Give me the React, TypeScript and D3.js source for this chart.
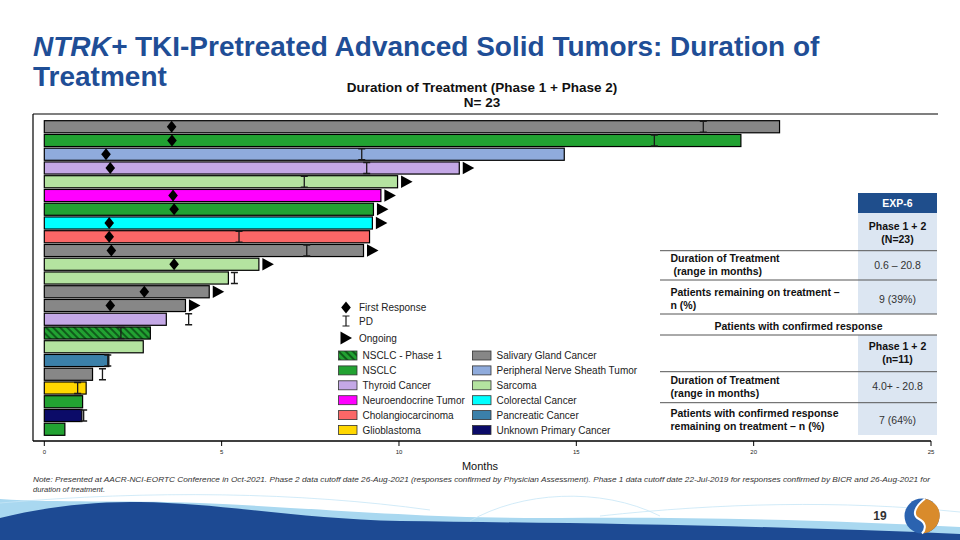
import React, { useRef, useEffect } from 'react';
import * as d3 from 'd3';

// one entry per patient, top to bottom
const tumorTypes = [
  'Salivary Gland Cancer', 'NSCLC', 'Peripheral Nerve Sheath Tumor', 'Thyroid Cancer', 'Sarcoma',
  'Neuroendocrine Tumor', 'NSCLC', 'Colorectal Cancer', 'Cholangiocarcinoma', 'Salivary Gland Cancer',
  'Sarcoma', 'Sarcoma', 'Salivary Gland Cancer', 'Salivary Gland Cancer', 'Thyroid Cancer',
  'NSCLC - Phase 1', 'Sarcoma', 'Pancreatic Cancer', 'Salivary Gland Cancer', 'Glioblastoma',
  'NSCLC', 'Unknown Primary Cancer', 'NSCLC',
];
const durations = [
  20.73, 19.64, 14.66, 11.7, 9.96, 9.49, 9.28, 9.25, 9.17, 9.0, 6.05, 5.19,
  4.65, 3.98, 3.44, 2.99, 2.79, 1.82, 1.36, 1.18, 1.08, 1.06, 0.58,
];
const firstResponse: (number | null)[] = [
  3.59, 3.6, 1.74, 1.86, null, 3.63, 3.66, 1.83, 1.83, 1.89, 3.66, null,
  2.82, 1.86, null, null, null, null, null, null, null, null, null,
];
const progression: (number | null)[] = [
  18.58, 17.2, 8.95, 9.09, 7.33, null, null, null, 5.49, 7.4, null, 5.36,
  null, null, 4.07, 2.16, null, 1.79, 1.64, 0.94, null, 1.11, null,
];
const ongoing = [
  false, false, false, true, true, true, true, true, false, true, true, false,
  true, true, false, false, false, false, false, false, false, false, false,
];

const markerLabels = ['First Response', 'PD', 'Ongoing'];
const legendLeft = ['NSCLC - Phase 1', 'NSCLC', 'Thyroid Cancer', 'Neuroendocrine Tumor', 'Cholangiocarcinoma', 'Glioblastoma'];
const legendRight = ['Salivary Gland Cancer', 'Peripheral Nerve Sheath Tumor', 'Sarcoma', 'Colorectal Cancer', 'Pancreatic Cancer', 'Unknown Primary Cancer'];
const typeColors = ['#22a232', '#22a232', '#c4a8e6', '#ff00ff', '#fb6767', '#ffd700', '#878787', '#8fabdc', '#b4e3a0', '#00ffff', '#3b80a9', '#0b0b68'];
const xTicks = [0, 5, 10, 15, 20, 25];

const tableRows = [
  { label: ['Duration of Treatment', ' (range in months)'], value: '0.6 – 20.8' },
  { label: ['Patients remaining on treatment –', 'n (%)'], value: '9 (39%)' },
  { label: ['Duration of Treatment', '(range in months)'], value: '4.0+ - 20.8' },
  { label: ['Patients with confirmed response', 'remaining on treatment – n (%)'], value: '7 (64%)' },
];
const note1 = 'Note: Presented at AACR-NCI-EORTC Conference in Oct-2021. Phase 2 data cutoff date 26-Aug-2021 (responses confirmed by Physician Assessment). Phase 1 data cutoff date 22-Jul-2019 for responses confirmed by BICR and 26-Aug-2021 for';
const note2 = 'duration of treatment.';

const FONT = "'Liberation Sans', Arial, sans-serif";

const App: React.FC = () => {
  const svgRef = useRef<SVGSVGElement>(null);

  useEffect(() => {
    if (!svgRef.current) return;
    const svg = d3.select(svgRef.current);
    svg.selectAll('*').remove();
    svg.attr('font-family', FONT);

    const color = d3.scaleOrdinal<string, string>()
      .domain([...legendLeft, ...legendRight])
      .range(typeColors);

    const x = d3.scaleLinear().domain([0, 25]).range([44.3, 931]);
    const y = d3.scaleBand<number>()
      .domain(d3.range(durations.length))
      .range([120, 436])
      .paddingInner(0.12)
      .paddingOuter(0.05);
    const bh = y.bandwidth();

    const defs = svg.append('defs');
    const hatch = defs.append('pattern')
      .attr('id', 'hatch')
      .attr('patternUnits', 'userSpaceOnUse')
      .attr('width', 5)
      .attr('height', 5)
      .attr('patternTransform', 'rotate(-45)');
    hatch.append('rect').attr('width', 5).attr('height', 5).attr('fill', '#22a232');
    hatch.append('line').attr('x1', 1).attr('x2', 1).attr('y1', 0).attr('y2', 5)
      .attr('stroke', '#0b4a15').attr('stroke-width', 1.6);
    const fillFor = (t: string) => (t === 'NSCLC - Phase 1' ? 'url(#hatch)' : color(t));

    // slide title
    const title = svg.append('text').attr('x', 33).attr('y', 56)
      .attr('font-size', 28).attr('font-weight', 'bold').attr('fill', '#1f4e96');
    title.append('tspan').attr('font-style', 'italic').text('NTRK+');
    title.append('tspan').text(' TKI-Pretreated Advanced Solid Tumors: Duration of');
    svg.append('text').attr('x', 33).attr('y', 86)
      .attr('font-size', 28).attr('font-weight', 'bold').attr('fill', '#1f4e96')
      .text('Treatment');

    // chart title
    svg.append('text').attr('x', 482).attr('y', 92).attr('text-anchor', 'middle')
      .attr('font-size', 13.5).attr('font-weight', 'bold').attr('fill', '#111')
      .text('Duration of Treatment (Phase 1 + Phase 2)');
    svg.append('text').attr('x', 482).attr('y', 107).attr('text-anchor', 'middle')
      .attr('font-size', 13.5).attr('font-weight', 'bold').attr('fill', '#111')
      .text('N= 23');

    // frame + axis
    svg.append('line').attr('x1', 33).attr('x2', 938).attr('y1', 114).attr('y2', 114)
      .attr('stroke', '#000').attr('stroke-width', 1.2);
    svg.append('line').attr('x1', 33).attr('x2', 33).attr('y1', 114).attr('y2', 441)
      .attr('stroke', '#000').attr('stroke-width', 1.2);
    svg.append('line').attr('x1', 33).attr('x2', 931).attr('y1', 441).attr('y2', 441)
      .attr('stroke', '#000').attr('stroke-width', 1.5);
    const ticks = svg.append('g');
    xTicks.forEach((t) => {
      ticks.append('line').attr('x1', x(t)).attr('x2', x(t)).attr('y1', 441).attr('y2', 446)
        .attr('stroke', '#000').attr('stroke-width', 1);
      ticks.append('text').attr('x', x(t)).attr('y', 454).attr('text-anchor', 'middle')
        .attr('font-size', 6).attr('fill', '#222').text(String(t));
    });
    svg.append('text').attr('x', 480).attr('y', 470).attr('text-anchor', 'middle')
      .attr('font-size', 11).attr('fill', '#111').text('Months');

    // bars
    const g = svg.append('g');
    durations.forEach((d, i) => {
      const yy = y(i)!;
      const cy = yy + bh / 2;
      g.append('rect').attr('x', x(0)).attr('y', yy).attr('width', x(d) - x(0)).attr('height', bh)
        .attr('fill', fillFor(tumorTypes[i])).attr('stroke', '#000').attr('stroke-width', 1.2);
      const fr = firstResponse[i];
      if (fr != null) {
        const fx = x(fr);
        g.append('path').attr('d', `M${fx},${cy - 6}L${fx + 4.8},${cy}L${fx},${cy + 6}L${fx - 4.8},${cy}Z`)
          .attr('fill', '#000');
      }
      const pd = progression[i];
      if (pd != null) {
        const px = x(pd);
        g.append('path')
          .attr('d', `M${px - 3.5},${cy - 5.5}H${px + 3.5}M${px},${cy - 5.5}V${cy + 5.5}M${px - 3.5},${cy + 5.5}H${px + 3.5}`)
          .attr('stroke', '#1a1a1a').attr('stroke-width', 1.3).attr('fill', 'none');
      }
      if (ongoing[i]) {
        const ex = x(d) + 3.5;
        g.append('path').attr('d', `M${ex},${cy - 6.2}L${ex + 11.5},${cy}L${ex},${cy + 6.2}Z`).attr('fill', '#000');
      }
    });

    // legend: markers
    const lg = svg.append('g').attr('font-size', 10).attr('fill', '#222');
    const my = [307.5, 321, 338];
    lg.append('path').attr('d', `M346,${my[0] - 6}L350.8,${my[0]}L346,${my[0] + 6}L341.2,${my[0]}Z`).attr('fill', '#000');
    lg.append('path').attr('d', `M342.5,${my[1] - 5}H349.5M346,${my[1] - 5}V${my[1] + 5}M342.5,${my[1] + 5}H349.5`)
      .attr('stroke', '#1a1a1a').attr('stroke-width', 1.2).attr('fill', 'none');
    lg.append('path').attr('d', `M340.5,${my[2] - 6.5}L352,${my[2]}L340.5,${my[2] + 6.5}Z`).attr('fill', '#000');
    markerLabels.forEach((m, i) => {
      lg.append('text').attr('x', 359).attr('y', my[i] + 3.6).attr('fill', '#222').text(m);
    });
    // legend: tumor types
    const rowY = (i: number) => 355.5 + i * 14.9;
    [legendLeft, legendRight].forEach((col, c) => {
      const sx = c === 0 ? 338.5 : 472.5;
      col.forEach((t, i) => {
        lg.append('rect').attr('x', sx).attr('y', rowY(i) - 4.5).attr('width', 18.5).attr('height', 9)
          .attr('fill', fillFor(t)).attr('stroke', '#333').attr('stroke-width', 0.8);
        lg.append('text').attr('x', sx + 24).attr('y', rowY(i) + 3.6).attr('fill', '#222').text(t);
      });
    });

    // summary table
    const tb = svg.append('g').attr('font-size', 10.5);
    const L = 660, R = 937, C0 = 858, CX = (C0 + R) / 2;
    tb.append('rect').attr('x', C0).attr('y', 193).attr('width', R - C0).attr('height', 20).attr('fill', '#1f4e8c');
    tb.append('rect').attr('x', C0).attr('y', 213).attr('width', R - C0).attr('height', 101).attr('fill', '#dce6f2');
    tb.append('rect').attr('x', C0).attr('y', 335).attr('width', R - C0).attr('height', 100).attr('fill', '#dce6f2');
    tb.append('text').attr('x', CX).attr('y', 207).attr('text-anchor', 'middle').attr('font-weight', 'bold')
      .attr('fill', '#fff').text('EXP-6');
    [250.7, 280, 314, 335, 371.7, 402.7].forEach((ly) => {
      tb.append('line').attr('x1', L).attr('x2', R).attr('y1', ly).attr('y2', ly)
        .attr('stroke', '#555').attr('stroke-width', 1);
    });
    const twoLine = (xx: number, base: number, lines: string[], anchor: string) => {
      lines.forEach((s, k) => {
        tb.append('text').attr('x', xx).attr('y', base + k * 13).attr('text-anchor', anchor)
          .attr('font-weight', 'bold').attr('fill', '#111').style('white-space', 'pre').text(s);
      });
    };
    twoLine(CX, 229.5, ['Phase 1 + 2', '(N=23)'], 'middle');
    twoLine(CX, 350, ['Phase 1 + 2', '(n=11)'], 'middle');
    const labelBase = [262, 295.5, 384, 416.5];
    const valueBase = [269, 302.5, 390, 423.5];
    tableRows.forEach((r, i) => {
      twoLine(L + 10.5, labelBase[i], r.label, 'start');
      tb.append('text').attr('x', CX).attr('y', valueBase[i]).attr('text-anchor', 'middle')
        .attr('fill', '#333').text(r.value);
    });
    tb.append('text').attr('x', (L + R) / 2).attr('y', 329.5).attr('text-anchor', 'middle')
      .attr('font-weight', 'bold').attr('fill', '#111').text('Patients with confirmed response');

    // footnote
    svg.append('text').attr('x', 33).attr('y', 482).attr('font-size', 8).attr('font-style', 'italic')
      .attr('fill', '#333').attr('textLength', 897).attr('lengthAdjust', 'spacingAndGlyphs').text(note1);
    svg.append('text').attr('x', 33).attr('y', 492).attr('font-size', 8).attr('font-style', 'italic')
      .attr('fill', '#333').attr('textLength', 72).attr('lengthAdjust', 'spacingAndGlyphs').text(note2);

    // bottom wave decoration
    const deco = svg.append('g');
    deco.append('path')
      .attr('d', 'M0,499 C60,503 120,500 200,503 C320,508 420,519 560,518 C700,517 820,520 960,527 L960,540 L0,540 Z')
      .attr('fill', '#a9d8f0');
    deco.append('path')
      .attr('d', 'M0,518 C40,508 90,501 140,502 C220,503 300,519 400,521 C560,523 760,525 960,534 L960,540 L0,540 Z')
      .attr('fill', '#1d4a93');
    deco.append('path').attr('d', 'M0,503 C150,490 300,492 430,510')
      .attr('fill', 'none').attr('stroke', '#c6e6f6').attr('stroke-width', 0.8);
    deco.append('path').attr('d', 'M470,521 C520,492 600,486 660,516')
      .attr('fill', 'none').attr('stroke', '#c6e6f6').attr('stroke-width', 0.8);
    deco.append('path').attr('d', 'M600,516 C720,503 840,500 960,512')
      .attr('fill', 'none').attr('stroke', '#c6e6f6').attr('stroke-width', 0.8);

    svg.append('text').attr('x', 880).attr('y', 520).attr('text-anchor', 'middle')
      .attr('font-size', 12).attr('font-weight', 'bold').attr('fill', '#333').text('19');

    // logo
    const logo = svg.append('g');
    logo.append('circle').attr('cx', 922).attr('cy', 516).attr('r', 17.5).attr('fill', '#2b63b0');
    logo.append('path')
      .attr('d', 'M925,498.8 C935,501 941,509 939.5,518 C938,527 931,533 922,533.5 C927,528 925,522 919,519 C912,515.5 914,507 925,498.8 Z')
      .attr('fill', '#d98b2b');
    logo.append('path').attr('d', 'M925,498.8 C914,507 912,515.5 919,519 C925,522 927,528 922,533.5')
      .attr('fill', 'none').attr('stroke', '#fff').attr('stroke-width', 2);
  }, []);

  return (
    <svg
      ref={svgRef}
      width={960}
      height={540}
      style={{ position: 'absolute', left: 0, top: 0, display: 'block', background: '#fff' }}
    />
  );
};

export default App;
